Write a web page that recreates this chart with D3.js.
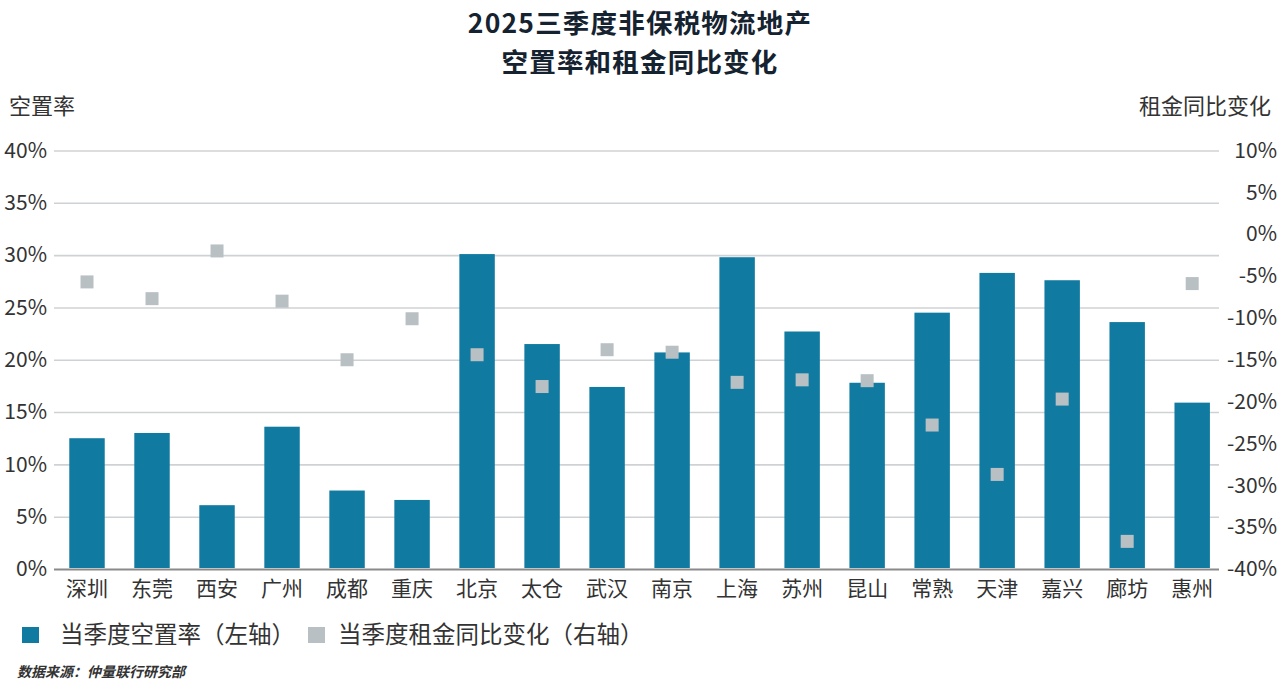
<!DOCTYPE html>
<html>
<head>
<meta charset="utf-8">
<script src="https://cdn.jsdelivr.net/npm/d3@7"></script>
<style>
  body { margin: 0; background: #fff; }
  svg text { font-family: "Noto Sans CJK SC", "Noto Sans", sans-serif; }
</style>
</head>
<body>
<div id="chart"></div>
<script>
/* DATA */
const cities = ["深圳", "东莞", "西安", "广州", "成都", "重庆", "北京", "太仓", "武汉",
  "南京", "上海", "苏州", "昆山", "常熟", "天津", "嘉兴", "廊坊", "惠州"];
// 当季度空置率 (%)
const vacancy = [12.5, 13.0, 6.1, 13.6, 7.5, 6.6, 30.1, 21.5, 17.4,
  20.7, 29.8, 22.7, 17.8, 24.5, 28.3, 27.6, 23.6, 15.9];
// 当季度租金同比变化 (%)
const rentChange = [-5.7, -7.7, -2.0, -8.0, -15.0, -10.1, -14.4, -18.2, -13.8,
  -14.1, -17.7, -17.4, -17.5, -22.8, -28.7, -19.7, -36.7, -5.9];
const leftTicks = [0, 5, 10, 15, 20, 25, 30, 35, 40];
const rightTicks = [10, 5, 0, -5, -10, -15, -20, -25, -30, -35, -40];
const titleLines = ["2025三季度非保税物流地产", "空置率和租金同比变化"];

/* CONSTANTS */
const width = 1280, height = 694;
const top0 = 150.5, bottom0 = 569;
const gridLeft = 54, gridRight = 1219;
const barColor = "#107aa1", dotColor = "#b9c0c4", textColor = "#333";

const svg = d3.select("#chart").append("svg")
  .attr("width", width)
  .attr("height", height);

// SCALES
const x = d3.scaleBand()
  .domain(cities)
  .range([54.5, 1224.7])
  .paddingInner(0.455)
  .paddingOuter(0.2275);

const yL = d3.scaleLinear().domain([0, 40]).range([bottom0, top0]);
const yR = d3.scaleLinear().domain([-40, 10]).range([bottom0, top0]);

// title (two lines)
svg.append("g")
  .selectAll("text")
  .data(titleLines)
  .join("text")
  .attr("x", 640)
  .attr("y", (d, i) => 33 + i * 38.5)
  .attr("text-anchor", "middle")
  .attr("font-size", 26.5)
  .attr("font-weight", 700)
  .attr("letter-spacing", 1.2)
  .attr("fill", "#15222f")
  .text(d => d);

// axis titles
svg.append("text")
  .attr("x", 9).attr("y", 114)
  .attr("font-size", 22).attr("fill", textColor)
  .text("空置率");
svg.append("text")
  .attr("x", 1271).attr("y", 114)
  .attr("text-anchor", "end")
  .attr("font-size", 22).attr("fill", textColor)
  .text("租金同比变化");

// gridlines (left axis)
const yAxisL = d3.axisLeft(yL)
  .tickValues(leftTicks)
  .tickSize(-(gridRight - gridLeft))
  .tickPadding(7)
  .tickFormat(d => d + "%");

const gL = svg.append("g")
  .attr("transform", `translate(${gridLeft},0)`)
  .call(yAxisL);
gL.select(".domain").remove();
gL.selectAll(".tick line")
  .attr("stroke", d => d === 0 ? "#8a8a8a" : "#cfd2d4")
  .attr("stroke-width", d => d === 0 ? 2 : 1.6);
gL.selectAll(".tick text")
  .attr("font-size", 21)
  .attr("fill", textColor)
  .attr("font-family", "'Noto Sans CJK SC', sans-serif");

// right axis labels only
const yAxisR = d3.axisRight(yR)
  .tickValues(rightTicks)
  .tickSize(0)
  .tickFormat(d => d + "%");
const gR = svg.append("g")
  .attr("transform", `translate(1277,0)`)
  .call(yAxisR);
gR.select(".domain").remove();
gR.selectAll(".tick text")
  .attr("x", 0)
  .attr("text-anchor", "end")
  .attr("font-size", 21)
  .attr("fill", textColor)
  .attr("font-family", "'Noto Sans CJK SC', sans-serif");

// bars
svg.append("g")
  .selectAll("rect")
  .data(cities)
  .join("rect")
  .attr("x", d => x(d))
  .attr("width", x.bandwidth())
  .attr("y", (d, i) => yL(vacancy[i]))
  .attr("height", (d, i) => yL(0) - yL(vacancy[i]) - 1)
  .attr("fill", barColor);

// rent change markers
const sq = 13;
svg.append("g")
  .selectAll("rect")
  .data(cities)
  .join("rect")
  .attr("x", d => x(d) + x.bandwidth() / 2 - sq / 2)
  .attr("y", (d, i) => yR(rentChange[i]) - sq / 2)
  .attr("width", sq)
  .attr("height", sq)
  .attr("fill", dotColor);

// x axis labels
const xAxis = d3.axisBottom(x).tickSize(0).tickPadding(0);
const gX = svg.append("g")
  .attr("transform", `translate(0,${bottom0})`)
  .call(xAxis);
gX.select(".domain").remove();
gX.selectAll(".tick text")
  .attr("y", 27)
  .attr("dy", 0)
  .attr("font-size", 21)
  .attr("fill", textColor)
  .attr("font-family", "'Noto Sans CJK SC', sans-serif");

// legend
const legend = svg.append("g");
const legendItems = [
  { label: "当季度空置率（左轴）", color: barColor, x: 22, tx: 60 },
  { label: "当季度租金同比变化（右轴）", color: dotColor, x: 308, tx: 338 }
];
legend.selectAll("rect")
  .data(legendItems)
  .join("rect")
  .attr("x", d => d.x).attr("y", 627)
  .attr("width", 17).attr("height", 16)
  .attr("fill", d => d.color);
legend.selectAll("text")
  .data(legendItems)
  .join("text")
  .attr("x", d => d.tx).attr("y", 643)
  .attr("font-size", 23.5)
  .attr("fill", textColor)
  .text(d => d.label);

// source
svg.append("text")
  .attr("x", 17).attr("y", 677)
  .attr("font-size", 14)
  .attr("font-weight", 700)
  .attr("font-style", "italic")
  .attr("fill", "#333")
  .text("数据来源：仲量联行研究部");
</script>
</body>
</html>
